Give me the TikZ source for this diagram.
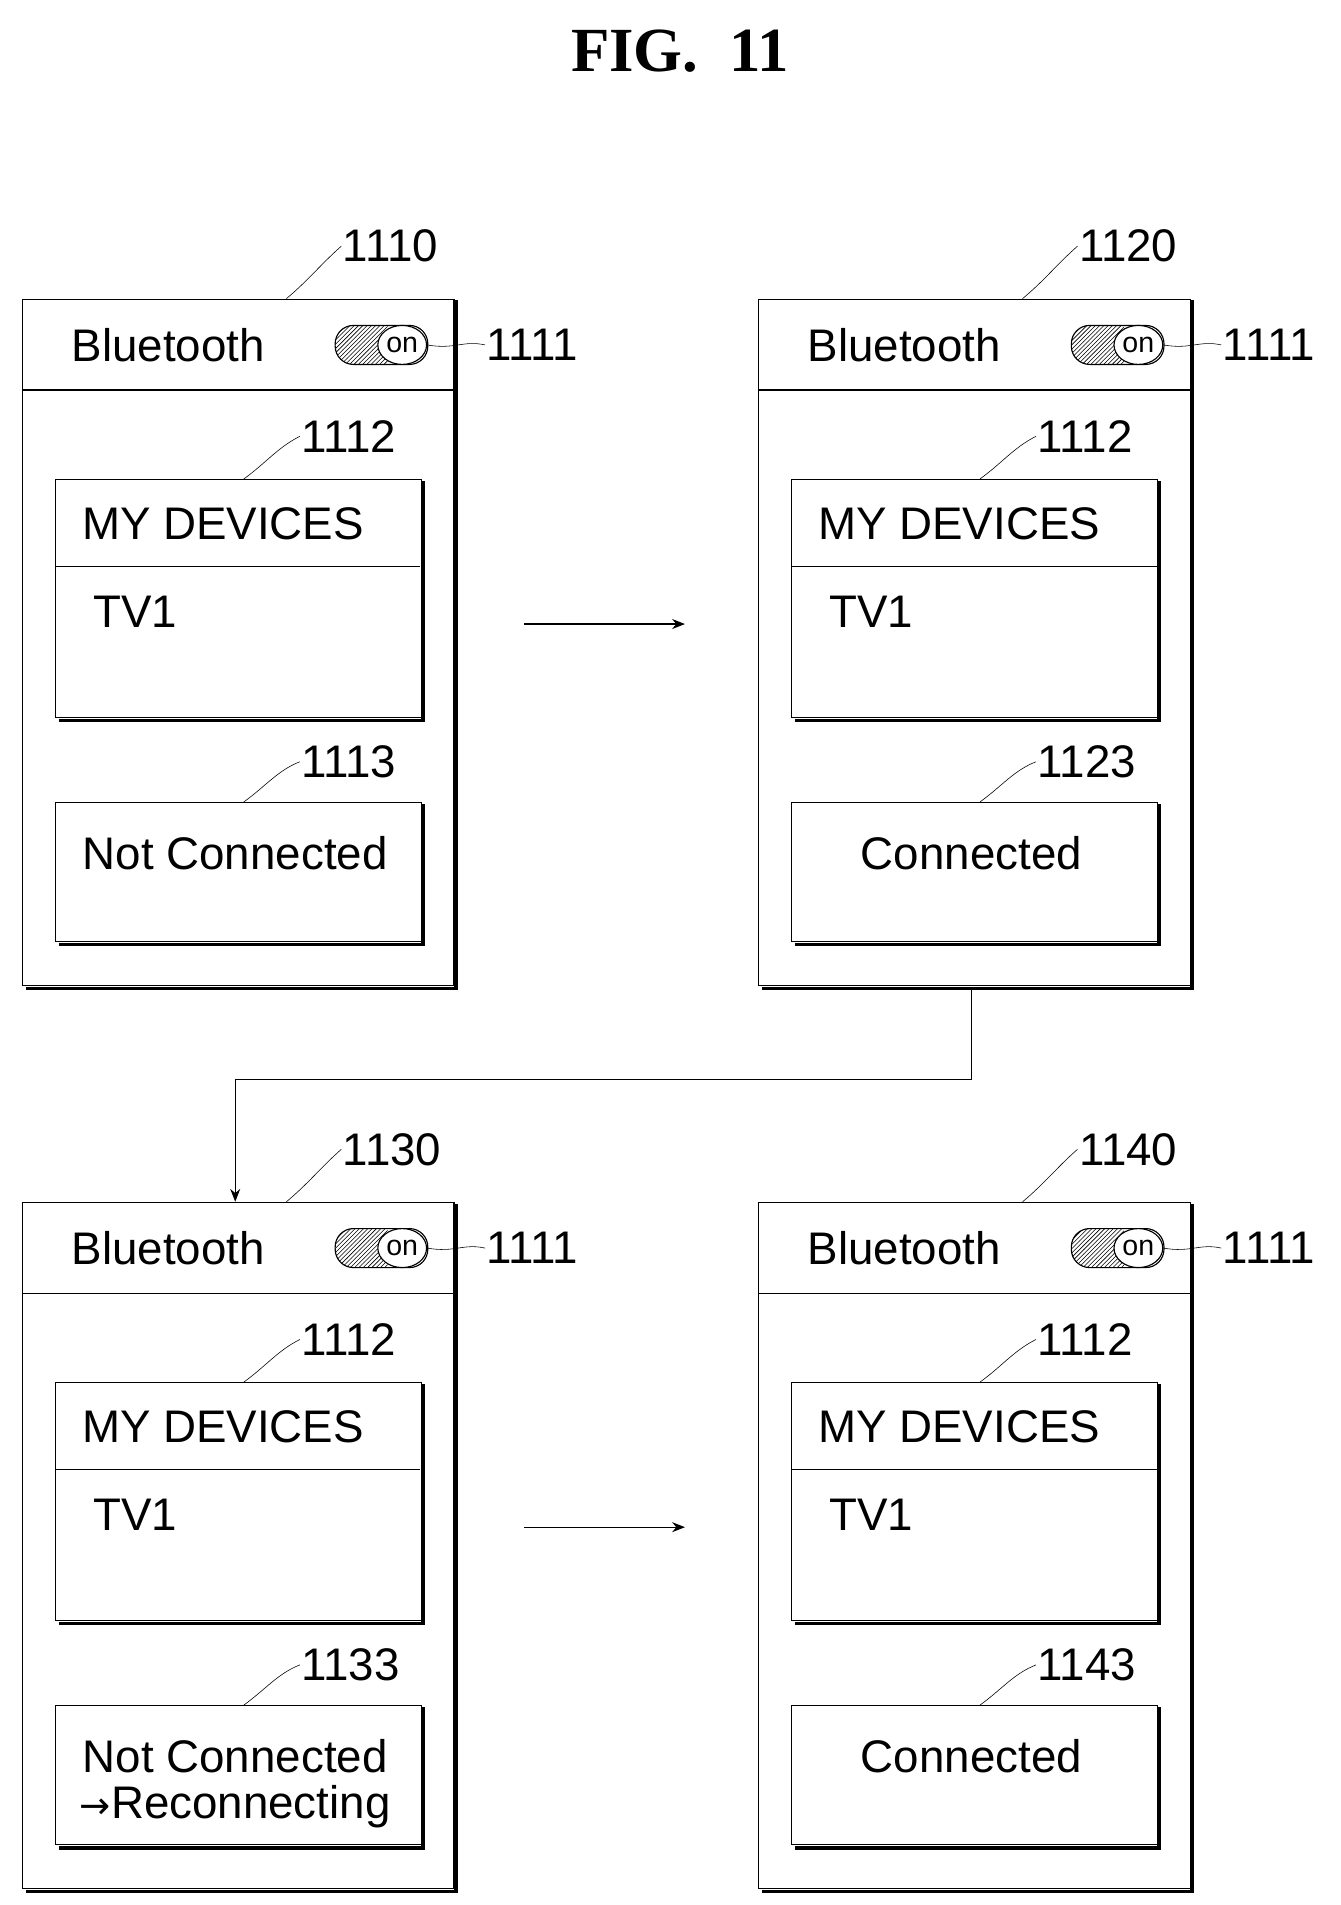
\documentclass[tikz,border=0pt]{standalone}
\usepackage{fontspec}
\setmainfont{Liberation Sans}
\usetikzlibrary{arrows.meta,patterns,positioning,calc,shapes.geometric}

\tikzset{
  frame/.style={draw, thick, fill=white},
  lbl/.style={font=\fontsize{32}{36}\selectfont, inner sep=1pt},
  refnum/.style={font=\fontsize{32}{36}\selectfont, inner sep=1pt},
  lead/.style={thin},
  flow/.style={thick, -{Stealth[length=9pt,width=7pt]}}
}

% one phone screen: x, y, prefix, screen ref, status ref, status text
\newcommand{\btscreen}[6]{
  \begin{scope}[shift={(#1,#2)}]
    % outer frame with shadow
    \draw[line width=2.5pt] (3,3) -- (356,3) -- (356,566) -- (3,566);
    \node[frame, minimum width=354*0.3mm, minimum height=563*0.3mm, anchor=north west] (#3) at (0,0) {};
    \draw[thick] (0,75) -- (354,75);
    \node[lbl] (#3bt) at (120,38) {Bluetooth};
    % toggle
    \begin{scope}
      \clip[rounded corners=4.5mm] (257,22) rectangle (333,54);
      \fill[pattern=north east lines] (257,22) rectangle (300,54);
    \end{scope}
    \draw[thick, rounded corners=4.5mm] (257,22) rectangle (333,54);
    \node[draw, thick, ellipse, fill=white, minimum width=40*0.3mm, minimum height=32*0.3mm, inner sep=0pt,
      font=\fontsize{20}{22}\selectfont] (#3tg) at (312,38) {on};
    \node[refnum, anchor=west] (#3tgref) at (380,38) {1111};
    \draw[lead] (#3tg.east) .. controls (355,42) and (362,34) .. (#3tgref.west);
    % screen ref
    \node[refnum, anchor=west] (#3ref) at (262,-43) {#4};
    \draw[lead] (217,0) .. controls (235,-15) and (245,-28) .. (#3ref.west);
    % device list
    \draw[line width=2.5pt] (30,151) -- (329,151) -- (329,346) -- (30,346);
    \node[frame, minimum width=300*0.3mm, minimum height=195*0.3mm, anchor=north west] (#3list) at (27,148) {};
    \draw[thick] (27,220) -- (327,220);
    \node[lbl] (#3my) at (165,185) {MY DEVICES};
    \node[lbl, anchor=west] (#3tv) at (57,257) {TV1};
    \node[refnum, anchor=west] (#3lref) at (228,113) {1112};
    \draw[lead] (182,148) .. controls (200,135) and (210,122) .. (#3lref.west);
    % status
    \draw[line width=2.5pt] (30,416) -- (329,416) -- (329,530) -- (30,530);
    \node[frame, minimum width=300*0.3mm, minimum height=114*0.3mm, anchor=north west] (#3st) at (27,413) {};
    \node[lbl, align=center, anchor=north] (#3sttext) at (175,440) {#6};
    \node[refnum, anchor=west] (#3sref) at (228,380) {#5};
    \draw[lead] (182,413) .. controls (200,400) and (210,387) .. (#3sref.west);
  \end{scope}
}

\begin{document}
\begin{tikzpicture}[x=0.03cm, y=-0.03cm]
  \useasboundingbox (0,0) rectangle (1100,1563);
  \node[font=\fontspec{Liberation Serif}\bfseries\fontsize{44}{48}\selectfont] (title) at (558,42) {FIG.\ \ 11};

  \btscreen{18}{245}{s1}{1110}{1113}{Not Connected}
  \btscreen{622}{245}{s2}{1120}{1123}{Connected}
  \btscreen{18}{986}{s3}{1130}{1133}{Not Connected\\[-4pt]{\fontspec{DejaVu Sans}\fontsize{26}{28}\selectfont →}Reconnecting}
  \btscreen{622}{986}{s4}{1140}{1143}{Connected}

  % transitions
  \coordinate (a1) at (430,512);
  \coordinate (b1) at (562,512);
  \coordinate (a2) at (430,1253);
  \coordinate (b2) at (562,1253);
  \draw[flow] (a1) -- (b1);
  \draw[flow] (a2) -- (b2);
  \coordinate (down) at (797,811);
  \draw[flow] (down) -- (797,886) -- (193,886) -- (193,986);
\end{tikzpicture}
\end{document}
